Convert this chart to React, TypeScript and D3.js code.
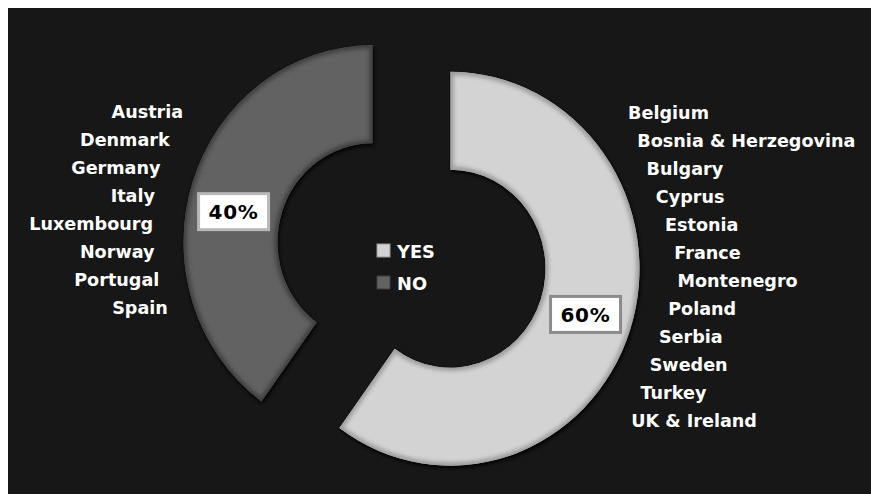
import React from 'react';
import * as d3 from 'd3';

const categories = ['YES', 'NO'];
const values = [60, 40];
const sliceColors = ['#d3d3d3', '#626262'];
const edgeColors = ['#9a9a9a', '#3e3e3e'];
const boxStroke = ['#8c8c8c', '#b8b8b8'];
const labelAngleFrac = [0.5, 0.458];
const yesCountries = [
  'Belgium', 'Bosnia & Herzegovina', 'Bulgary', 'Cyprus', 'Estonia', 'France',
  'Montenegro', 'Poland', 'Serbia', 'Sweden', 'Turkey', 'UK & Ireland',
];
const noCountries = [
  'Austria', 'Denmark', 'Germany', 'Italy', 'Luxembourg', 'Norway', 'Portugal', 'Spain',
];

const FONT = '"DejaVu Sans", Verdana, sans-serif';

export default function App() {
  const W = 880;
  const H = 500;
  const cx = 411.5;
  const cy = 255.5;
  const sy = 1.042;
  const R = 189;
  const r0 = 95;
  const explode = 41;
  const total = d3.sum(values);

  const pie = d3.pie<number>().sort(null).startAngle(0).endAngle(2 * Math.PI);
  const arcs = pie(values);
  const arc = d3.arc<d3.PieArcDatum<number>>().innerRadius(r0).outerRadius(R);

  const slices = arcs.map((a, i) => {
    const mid = (a.startAngle + a.endAngle) / 2;
    const dx = explode * Math.sin(mid);
    const dy = -explode * Math.cos(mid);
    const th = a.startAngle + (a.endAngle - a.startAngle) * labelAngleFrac[i];
    const rr = (r0 + R) / 2;
    const lx = cx + dx + rr * Math.sin(th);
    const ly = cy + sy * (dy - rr * Math.cos(th));
    const pcx = cx + dx;
    const pcy = cy + sy * dy;
    return { a, i, dx, dy, lx, ly, pcx, pcy, d: arc(a) as string };
  });

  const noS = slices[1];
  const yesS = slices[0];
  const rowH = 28;

  const rightPeak = yesS.pcx + 230;
  const rightCenterY = yesS.pcy + 3;
  const rightSlope = 0.33;
  const leftCx = noS.pcx + 12;
  const leftCy = noS.pcy - 16;
  const leftR = 231.5;

  const fmt = d3.format('.0%');

  return (
    <svg
      width={W}
      height={H}
      style={{ display: 'block', position: 'fixed', left: 8, top: 8 }}
    >
      <defs>
        <filter id="blur3" x="-20%" y="-20%" width="140%" height="140%">
          <feGaussianBlur stdDeviation="2.2" />
        </filter>
        <filter id="shadow" x="-20%" y="-20%" width="140%" height="140%">
          <feGaussianBlur stdDeviation="2" />
        </filter>
        {slices.map((s) => (
          <clipPath id={`clip${s.i}`} key={s.i}>
            <path d={s.d} />
          </clipPath>
        ))}
      </defs>
      <g transform="translate(-8,-8)">
        <rect x={8} y={8} width={W} height={H} fill="#171717" />
        <g transform={`translate(${cx},${cy}) scale(1,${sy})`}>
          {slices.map((s) => (
            <g key={s.i} transform={`translate(${s.dx},${s.dy})`}>
              <path d={s.d} fill="#050505" filter="url(#shadow)" transform="translate(1,2)" />
              <path d={s.d} fill={sliceColors[s.i]} />
              <g clipPath={`url(#clip${s.i})`}>
                <path
                  d={s.d}
                  fill="none"
                  stroke={edgeColors[s.i]}
                  strokeWidth={6}
                  filter="url(#blur3)"
                />
              </g>
            </g>
          ))}
        </g>

        {slices.map((s) => (
          <g key={`lab${s.i}`}>
            <rect
              x={s.lx - 35}
              y={s.ly - 18}
              width={70}
              height={36}
              fill="#ffffff"
              stroke={boxStroke[s.i]}
              strokeWidth={3}
            />
            <text
              x={s.lx}
              y={s.ly}
              dy="0.37em"
              textAnchor="middle"
              fontFamily={FONT}
              fontWeight="bold"
              fontSize={20}
              letterSpacing={0.8}
              fill="#000"
            >
              {fmt(values[s.i] / total)}
            </text>
          </g>
        ))}

        {categories.map((c, i) => (
          <g key={c}>
            <rect
              x={377}
              y={244 + i * 32}
              width={13}
              height={13}
              fill={sliceColors[i]}
              stroke={edgeColors[i]}
              strokeWidth={1}
            />
            <text
              x={397}
              y={258 + i * 32}
              fontFamily={FONT}
              fontWeight="bold"
              fontSize={17.8}
              fill="#ffffff"
            >
              {c}
            </text>
          </g>
        ))}

        {yesCountries.map((name, i) => {
          const base = 119 + i * rowH;
          const mid = base - 6;
          const x = rightPeak - rightSlope * Math.abs(mid - rightCenterY);
          return (
            <text
              key={name}
              x={x}
              y={base}
              fontFamily={FONT}
              fontWeight="bold"
              fontSize={17.6}
              fill="#ffffff"
            >
              {name}
            </text>
          );
        })}

        {noCountries.map((name, i) => {
          const base = 118 + i * rowH;
          const mid = base - 6;
          const u = mid - leftCy;
          const x = leftCx - Math.sqrt(Math.max(0, leftR * leftR - u * u));
          return (
            <text
              key={name}
              x={x}
              y={base}
              textAnchor="end"
              fontFamily={FONT}
              fontWeight="bold"
              fontSize={17.6}
              fill="#ffffff"
            >
              {name}
            </text>
          );
        })}
      </g>
    </svg>
  );
}
